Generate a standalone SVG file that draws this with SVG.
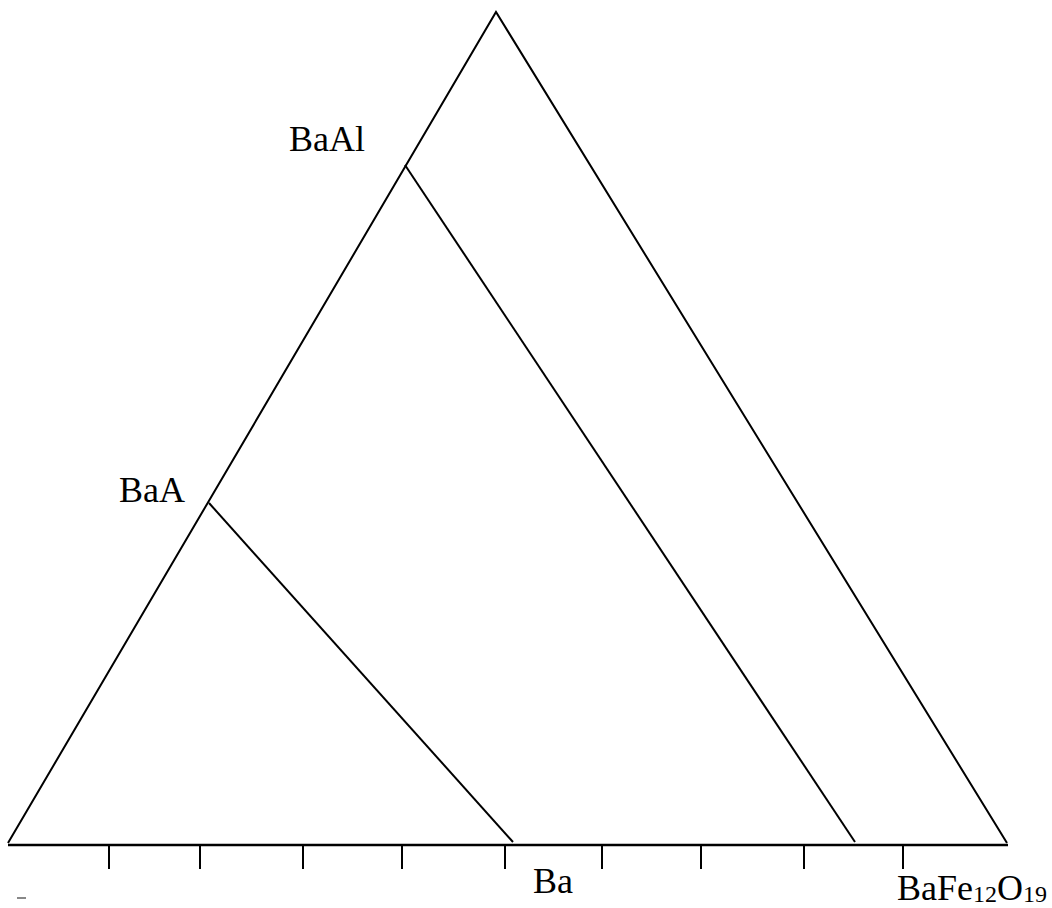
<svg xmlns="http://www.w3.org/2000/svg" width="1052" height="908" viewBox="0 0 1052 908">
<style>
.ln{stroke:#000;stroke-width:2;fill:none;stroke-linecap:butt}
.t{font-family:"Liberation Serif","Times New Roman",serif;font-size:36px;fill:#000}
.s{font-size:24px}
</style>
<rect width="1052" height="908" fill="#fff"/>
<g id="connectors">
<polyline class="ln" points="8,843 496,12 1007,843"/>
<line class="ln" x1="8" y1="845" x2="1008" y2="845" style="stroke-width:2.4"/>
<line class="ln" x1="209" y1="503" x2="513" y2="842"/>
<line class="ln" x1="405" y1="165" x2="855" y2="842"/>
<g id="ticks">
<line class="ln" x1="109" y1="845" x2="109" y2="869"/>
<line class="ln" x1="200" y1="845" x2="200" y2="869"/>
<line class="ln" x1="303" y1="845" x2="303" y2="869"/>
<line class="ln" x1="402" y1="845" x2="402" y2="869"/>
<line class="ln" x1="505" y1="845" x2="505" y2="869"/>
<line class="ln" x1="602" y1="845" x2="602" y2="869"/>
<line class="ln" x1="701" y1="845" x2="701" y2="869"/>
<line class="ln" x1="804" y1="845" x2="804" y2="869"/>
<line class="ln" x1="903" y1="845" x2="903" y2="869"/>
</g>
<line x1="17" y1="898" x2="26" y2="898" stroke="#888" stroke-width="2"/>
</g>
<g id="label-BaAl"><text class="t" x="289" y="151">BaAl</text></g>
<g id="label-BaA"><text class="t" x="119" y="502">BaA</text></g>
<g id="label-Ba"><text class="t" x="533" y="893">Ba</text></g>
<g id="label-BaFe12O19"><text class="t" x="897" y="900">BaFe<tspan class="s" dy="2">12</tspan><tspan dy="-2">O</tspan><tspan class="s" dy="2">19</tspan></text></g>
</svg>
